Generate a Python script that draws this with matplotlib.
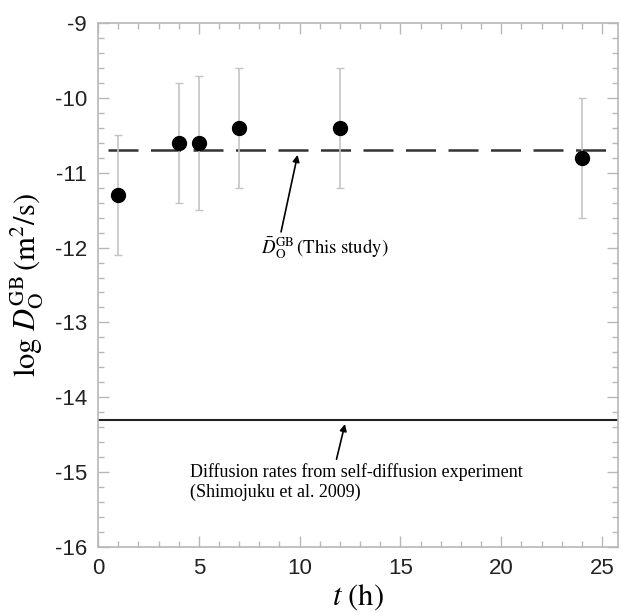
import matplotlib
matplotlib.use("Agg")
import matplotlib.pyplot as plt
from matplotlib.ticker import MultipleLocator

# Data
t_hours = [1, 4, 5, 7, 12, 24]
logD = [-11.3, -10.6, -10.6, -10.4, -10.4, -10.8]
err = [0.8, 0.8, 0.9, 0.8, 0.8, 0.8]
mean_this_study = -10.7
self_diffusion = -14.3
x_ticks = [0, 5, 10, 15, 20, 25]
y_ticks = [-16, -15, -14, -13, -12, -11, -10, -9]

plt.rcParams['mathtext.fontset'] = 'stix'
plt.rcParams['font.family'] = ['Liberation Sans', 'DejaVu Sans']

fig = plt.figure(figsize=(6.22, 6.13), dpi=100)
ax = fig.add_axes([0.1576, 0.1082, 0.8352, 0.8538])

spine_col = '#b8b8b8'
ax.errorbar(t_hours, logD, yerr=err, fmt='none', ecolor='#c4c4c4',
            elinewidth=1.2, capsize=3, capthick=1.0, zorder=2)
ax.plot(t_hours, logD, 'o', color='black', markersize=10, zorder=3)

ax.plot([0.5, 25.5], [mean_this_study, mean_this_study], color='#333333',
        linewidth=1.8, dashes=(12, 5), zorder=1)
ax.axhline(self_diffusion, color='#222222', linewidth=1.5, zorder=1)

ax.set_xlim(0, 25.77)
ax.set_ylim(-16, -9)
ax.set_xticks(x_ticks)
ax.set_yticks(y_ticks)
ax.set_xticklabels([str(v) for v in x_ticks])
ax.set_yticklabels([str(v) for v in y_ticks])
ax.xaxis.set_minor_locator(MultipleLocator(1))
ax.yaxis.set_minor_locator(MultipleLocator(0.2))
ax.tick_params(which='both', direction='in', top=True, right=True,
               color=spine_col, width=1.0)
ax.tick_params(which='major', length=8, labelsize=16, labelcolor='#222222', pad=8)
ax.tick_params(which='minor', length=4)
for s in ax.spines.values():
    s.set_color(spine_col)
    s.set_linewidth(1.2)

ax.set_xlabel(r'$t\ \mathrm{(h)}$', fontsize=22, labelpad=2)
ax.set_ylabel(r'$\mathrm{log}\ D_\mathrm{O}^\mathrm{GB}\,\mathrm{(m^2/s)}$', fontsize=22, labelpad=6)

ax.annotate(r'$\bar{D}_\mathrm{O}^\mathrm{GB}\,\mathrm{(This\ study)}$',
            xy=(9.9, -10.76), xytext=(8.1, -12.0), fontsize=13.5,
            ha='left', va='center',
            arrowprops=dict(arrowstyle='-|>', color='black', lw=1.2,
                            mutation_scale=10, shrinkA=0, shrinkB=0,
                            relpos=(0.15, 1.0)))
ax.annotate('', xy=(12.25, -14.36), xytext=(11.83, -14.83),
            arrowprops=dict(arrowstyle='-|>', color='black', lw=1.2,
                            mutation_scale=10, shrinkA=0, shrinkB=0))
ax.text(4.57, -15.0, 'Diffusion rates from self-diffusion experiment',
        fontsize=13, family=['Liberation Serif'], ha='left', va='center')
ax.text(4.57, -15.28, '(Shimojuku et al. 2009)',
        fontsize=13, family=['Liberation Serif'], ha='left', va='center')

fig.savefig('out.png', dpi=100)
